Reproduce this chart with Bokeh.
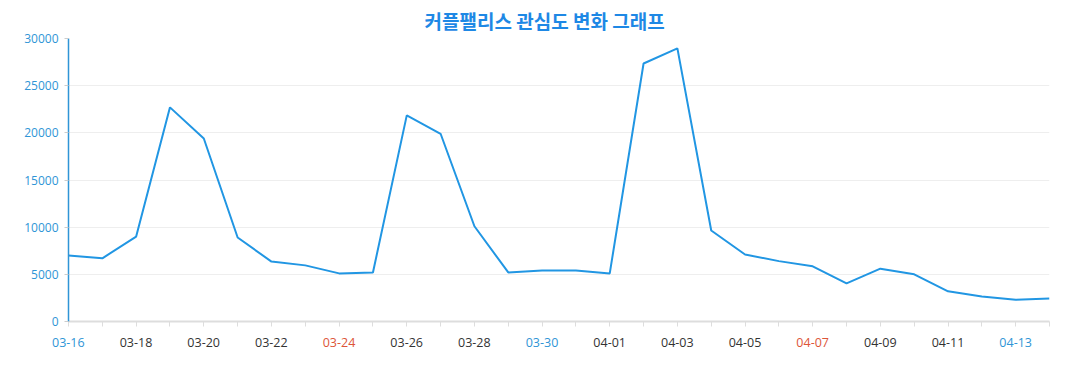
from bokeh.plotting import figure
from bokeh.models import (ColumnDataSource, FixedTicker, CustomJSTickFormatter, Range1d)
from bokeh.core.properties import value
from bokeh.embed import file_html
from bokeh.resources import INLINE

dates = ["03-16", "03-17", "03-18", "03-19", "03-20", "03-21", "03-22", "03-23",
         "03-24", "03-25", "03-26", "03-27", "03-28", "03-29", "03-30", "03-31",
         "04-01", "04-02", "04-03", "04-04", "04-05", "04-06", "04-07", "04-08",
         "04-09", "04-10", "04-11", "04-12", "04-13", "04-14"]
values = [7000, 6700, 9000, 22700, 19400, 8900, 6350, 5950,
          5100, 5200, 21850, 19900, 10100, 5200, 5400, 5400,
          5100, 27350, 28950, 9650, 7100, 6400, 5850, 4050,
          5600, 5000, 3200, 2650, 2300, 2450]
blue_labels = ["03-16", "03-30", "04-13"]
red_labels = ["03-24", "04-07"]
y_ticks = [0, 5000, 10000, 15000, 20000, 25000, 30000]

FONT = "Open Sans"
LINE = "#2196e3"
BLUE_TXT = "#2f95d6"
RED_TXT = "#dd5539"
DARK_TXT = "#333333"
W = 1065
LB, RB = 68, 16
n = len(dates)
step = (W - LB - RB) / (n - 1)

idx = list(range(n))
src = ColumnDataSource(dict(x=idx, y=values))

p = figure(width=W, height=333, output_backend="svg", toolbar_location=None,
           x_range=Range1d(0, n - 1), y_range=Range1d(0, 30000),
           min_border_left=LB, min_border_right=RB, min_border_top=38,
           min_border_bottom=12)
p.outline_line_color = None

p.title.text = "커플팰리스 관심도 변화 그래프"
p.title.align = "left"
p.title.offset = 356
p.title.text_font = "Noto Sans CJK KR"
p.title.text_font_style = "bold"
p.title.text_font_size = "19px"
p.title.text_color = "#1e88e5"
p.title.standoff = 9

p.line("x", "y", source=src, line_color=LINE, line_width=2)

# x axis
p.xaxis.ticker = FixedTicker(ticks=idx)
p.xaxis.formatter = CustomJSTickFormatter(code="return '';")
p.xaxis.axis_line_color = "#dddddd"
p.xaxis.axis_line_width = 2
p.xaxis.major_tick_line_color = "#dddddd"
p.xaxis.major_tick_in = 0
p.xaxis.major_tick_out = 5
p.xaxis.minor_tick_line_color = None
p.xaxis.major_label_text_font_size = "1px"
p.xaxis.major_label_standoff = 0
p.xgrid.grid_line_color = None

# y axis
p.yaxis.ticker = FixedTicker(ticks=y_ticks)
p.yaxis.axis_line_color = "#2f95d6"
p.yaxis.axis_line_width = 1.5
p.yaxis.major_tick_line_color = "#cccccc"
p.yaxis.major_tick_in = 0
p.yaxis.major_tick_out = 4
p.yaxis.minor_tick_line_color = None
p.yaxis.major_label_text_color = BLUE_TXT
p.yaxis.major_label_text_font = FONT
p.yaxis.major_label_text_font_size = "12px"
p.yaxis.major_label_standoff = 6
p.ygrid.grid_line_color = "#eeeeee"

# colored x labels every other day, drawn in a strip below the chart
lx, ly, lt, lc = [], [], [], []
for i, d in enumerate(dates):
    if i % 2 == 0:
        lx.append(i)
        ly.append(15)
        lt.append(d)
        lc.append(BLUE_TXT if d in blue_labels else RED_TXT if d in red_labels else DARK_TXT)
lsrc = ColumnDataSource(dict(x=lx, y=ly, t=lt, c=lc))

pad = 1
q = figure(width=W, height=24, output_backend="svg", toolbar_location=None,
           x_range=Range1d(-pad, n - 1), y_range=Range1d(0, 24),
           min_border_left=int(round(LB - pad * step)), min_border_right=RB,
           min_border_top=0, min_border_bottom=0,
           x_axis_location=None, y_axis_location=None)
q.outline_line_color = None
q.grid.grid_line_color = None
q.text("x", "y", text="t", source=lsrc, text_color="c",
       text_align="center", text_baseline="middle",
       text_font=value(FONT), text_font_size="12.5px")

open("out.html", "w").write(file_html([p, q], INLINE))
